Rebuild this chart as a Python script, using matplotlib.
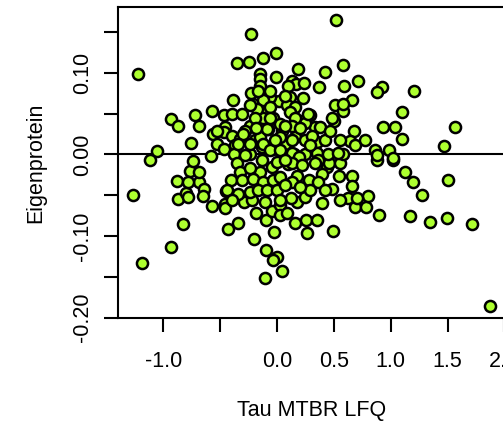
import matplotlib
matplotlib.use('Agg')
from matplotlib import pyplot

pyplot.rc('font', family='Liberation Sans', size=15.5)

# Tau MTBR LFQ (x) vs eigenprotein score (y), one point per sample
tau_lfq = [
    -1.225, -0.93, -0.87, -1.06, -1.12, -1.27, -1.19, -0.93, -0.83, -0.88,
    -0.875, -0.80, -0.77, -0.74, -0.69, -0.64, -0.65, -0.57, -0.46, -0.46,
    -0.45, -0.43, -0.345, -0.20, -0.185, -0.29, -0.22, -0.11, -0.10, -0.047,
    -0.026, 0.026, 0.026, -0.097, -0.003, -0.04, 0.04, -0.105, 0.255, 0.35,
    0.16, 0.267, 0.49, 0.085, 0.393, 0.686, 0.78, 0.897, 0.173, 1.126,
    1.194, 1.278, 1.50, 1.17, 1.346, 1.498, 1.712, 1.873, 0.803, 0.62,
    0.657, 0.657, 0.486, 0.548, 0.437, 0.877, 1.023, 0.12, 0.284, 0.173,
    -0.003, -0.047, 0.10, -0.15, 0.52, -0.23, -0.125, -0.01, -0.35, -0.25,
    -0.15, -0.15, -0.01, 0.18, 0.418, 0.583, 0.372, 0.59, 0.715, 0.923,
    0.875, 1.205, 0.662, 0.51, 0.583, 0.50, 1.102, 0.935, 1.038, 1.102,
    1.566, 1.469, 0.68, 0.642, 0.686, 0.774, 0.862, 0.877, 0.985, 1.023,
    0.13, 0.17, 0.238, 0.10, 0.115, 0.23, 0.02, 0.085, 0.16, 0.115,
    0.583, -0.038, 0.217, 0.334, 0.378, 0.29, -0.15, -0.06, -0.097, -0.12,
    0.04, -0.077, 0.16, 0.246, 0.35, 0.07, 0.145, -0.033, 0.35, 0.363,
    0.46, 0.554, 0.583, -0.24, -0.195, -0.135, -0.24, -0.21, -0.12, -0.23,
    -0.39, -0.06, -0.06, -0.18, -0.24, -0.575, -0.72, -0.47, -0.40, -0.31,
    -0.69, -0.76, -0.58, -0.69, -0.78, -0.78, -0.46, -0.56, -0.47, -0.40,
    -0.325, -0.24, -0.15, -0.09, 0.026, -0.06, -0.195, 0.026, -0.53, -0.37,
    -0.47, -0.38, -0.12, -0.06, 0.026, -0.35, -0.325, -0.24, -0.003, -0.41,
    -0.31, -0.21, -0.12, -0.033, 0.026, -0.44, -0.34, -0.24, -0.165, -0.09,
    -0.003, -0.40, 0.026, 0.246, 0.48, 0.16, 0.275, 0.13, 0.13, 0.305,
    0.13, 0.246, 0.45, 0.54, 0.19, 0.13, 0.217, 0.334, 0.393, 0.13,
    0.363, 0.70, 0.554, 0.246, 0.07, 0.07, 0.07, -0.13, -0.28, -0.185,
    -0.28, 0.20, 0.29, 0.42, 0.465, 0.554, 0.42, 0.29, 0.20, -0.018,
    0.07, -0.167, -0.53, -0.30, -0.34,
]
eigenprotein = [
    0.099, 0.043, 0.035, 0.004, -0.007, -0.050, -0.133, -0.113, -0.085, -0.033,
    -0.055, -0.047, -0.020, -0.008, -0.034, -0.043, -0.051, -0.063, -0.061, -0.066,
    -0.045, -0.091, -0.084, -0.104, -0.072, -0.058, -0.056, -0.059, -0.081, -0.070,
    -0.095, -0.062, -0.074, -0.117, -0.126, -0.130, -0.143, -0.152, -0.080, -0.080,
    -0.084, -0.096, -0.094, -0.072, -0.060, -0.065, -0.065, -0.074, -0.058, -0.022,
    -0.034, -0.050, -0.032, -0.076, -0.083, -0.078, -0.085, -0.186, -0.051, -0.053,
    -0.026, -0.039, -0.043, -0.026, -0.015, -0.007, -0.007, -0.054, -0.031, -0.026,
    -0.031, -0.016, -0.012, -0.022, 0.165, 0.148, 0.118, 0.124, 0.112, 0.113,
    0.099, 0.092, 0.095, 0.104, 0.101, 0.109, 0.083, 0.084, 0.090, 0.083,
    0.076, 0.077, 0.067, 0.060, 0.053, 0.041, 0.052, 0.033, 0.034, 0.019,
    0.033, 0.010, 0.028, 0.016, 0.011, 0.018, 0.005, -0.001, 0.005, -0.004,
    0.090, 0.086, 0.087, 0.084, 0.070, 0.069, 0.065, 0.060, 0.058, 0.052,
    0.062, 0.044, 0.041, 0.034, 0.034, 0.048, 0.084, 0.070, 0.054, 0.045,
    0.029, 0.031, 0.021, 0.017, 0.015, 0.013, 0.001, 0.006, 0.002, -0.007,
    -0.011, -0.011, 0.001, 0.035, 0.017, 0.009, 0.001, 0.062, 0.066, 0.075,
    0.066, 0.078, 0.058, 0.056, 0.060, 0.053, 0.048, 0.048, 0.050, 0.050,
    0.035, 0.014, -0.002, -0.022, -0.034, -0.052, 0.033, 0.025, 0.027, 0.023,
    0.019, 0.013, 0.021, 0.031, 0.037, 0.045, 0.045, 0.021, 0.013, 0.011,
    0.007, 0.001, 0.013, 0.005, 0.005, -0.011, -0.022, -0.017, -0.009, -0.032,
    -0.032, -0.030, -0.034, -0.032, -0.028, -0.044, -0.048, -0.046, -0.044, -0.044,
    -0.044, -0.056, -0.056, 0.039, 0.044, 0.045, 0.050, 0.035, 0.017, 0.023,
    0.002, 0.001, 0.001, 0.002, -0.003, -0.011, -0.013, -0.011, -0.024, -0.034,
    -0.034, -0.054, -0.056, -0.052, 0.035, -0.007, -0.038, -0.007, -0.001, 0.032,
    0.029, 0.032, 0.011, 0.017, 0.029, 0.017, -0.044, -0.044, -0.040, 0.017,
    0.072, 0.078, 0.029, 0.025, 0.013,
]

x_ticks = [-1.0, -0.5, 0.0, 0.5, 1.0, 1.5, 2.0]
x_ticklabels = ['-1.0', '', '0.0', '0.5', '1.0', '1.5', '2.0']
y_ticks = [-0.20, -0.15, -0.10, -0.05, 0.00, 0.05, 0.10, 0.15]
y_ticklabels = ['-0.20', '', '-0.10', '', '0.00', '', '0.10', '']

fig = pyplot.figure(figsize=(5.03, 4.33), dpi=100)
axes = fig.add_axes([0.2346, 0.2656, 0.7714, 0.7182])

axes.axhline(0, color='black', linewidth=1.5, zorder=1)
axes.scatter(tau_lfq, eigenprotein, s=64, facecolor='greenyellow',
             edgecolor='black', linewidths=1.8, zorder=2)

axes.set_xlim(-1.40, 2.014)
axes.set_ylim(-0.2005, 0.1805)

axes.set_xticks(x_ticks)
axes.set_xticklabels(x_ticklabels)
axes.set_yticks(y_ticks)
axes.set_yticklabels(y_ticklabels, rotation=90, va='center')
axes.tick_params(axis='both', direction='out', length=10, width=1.5)
axes.tick_params(axis='x', pad=14)
axes.tick_params(axis='y', pad=8)

for spine in axes.spines.values():
    spine.set_linewidth(1.5)

axes.set_xlabel('Tau MTBR LFQ', va='center')
axes.xaxis.set_label_coords(0.5, -0.296)
axes.set_ylabel('Eigenprotein', va='center')
axes.yaxis.set_label_coords(-0.211, 0.5)

pyplot.savefig('out.png', dpi=100)
